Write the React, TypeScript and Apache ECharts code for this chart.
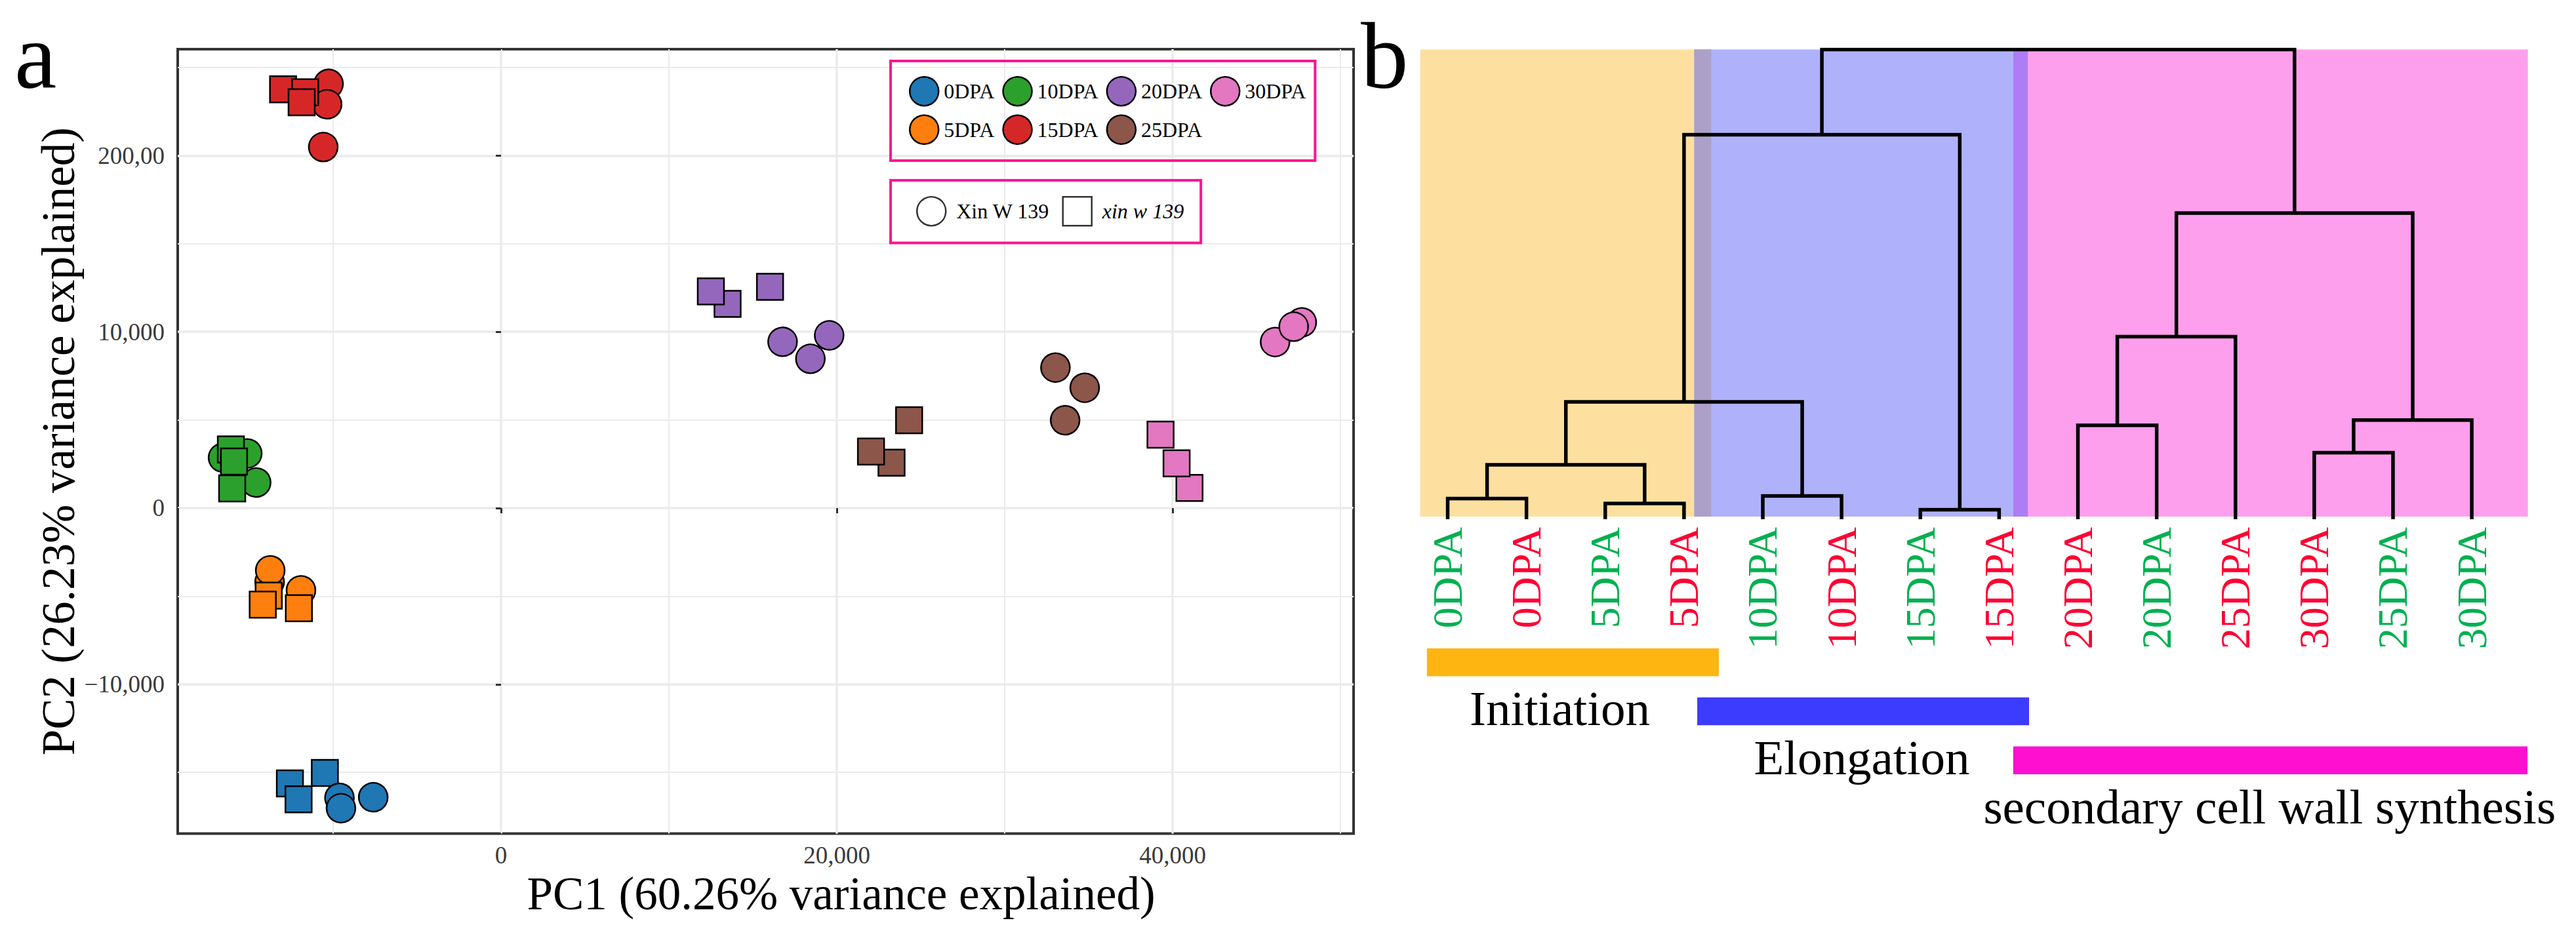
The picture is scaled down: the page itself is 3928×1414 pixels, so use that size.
import React, { useEffect, useRef } from 'react';
import * as echarts from 'echarts';

const FONT = '"Liberation Serif", "Times New Roman", serif';

// ---------- Panel a : PCA ----------
const stages = ['0DPA', '5DPA', '10DPA', '15DPA', '20DPA', '25DPA', '30DPA'];
const stageColors = ['#1f77b4', '#ff7f0e', '#2ca02c', '#d62728', '#9467bd', '#8c564b', '#e377c2'];
const legendOrder = ['0DPA', '10DPA', '20DPA', '30DPA', '5DPA', '15DPA', '25DPA'];
const genotypes = ['Xin W 139', 'xin w 139'];

// Xin W 139 (circles), one row per stage
const xinW_PC1 = [
  [-9625, -9535, -7613],
  [-13785, -13750, -11918],
  [-16560, -15117, -14586],
  [-10273, -10361, -10590],
  [16770, 18426, 19543],
  [33023, 34766, 33598],
  [46106, 47695, 47213],
];
const xinW_PC2 = [
  [-16440, -17031, -16406],
  [-4189, -3530, -4665],
  [2860, 3099, 1451],
  [24074, 22913, 20487],
  [9435, 8471, 9799],
  [7972, 6827, 4985],
  [9423, 10540, 10294],
];
// xin w 139 (squares), one row per stage
const xinw_PC1 = [
  [-12578, -10496, -12062],
  [-13840, -14195, -12043],
  [-16094, -15906, -16016],
  [-12984, -11668, -11879],
  [13492, 12496, 16020],
  [23258, 22035, 24305],
  [41004, 40238, 39281],
];
const xinw_PC2 = [
  [-15625, -15030, -16522],
  [-4970, -5476, -5681],
  [3326, 2641, 1116],
  [23761, 23594, 23028],
  [11592, 12292, 12556],
  [2574, 3207, 4985],
  [1146, 2537, 4167],
];
const squaresFirst = ['0DPA'];

const xRange = [-19260, 50780];
const yRange = [-18470, 26040];
const xTickValues = [0, 20000, 40000];
const xTickLabels = ['0', '20,000', '40,000'];
const yTickValues = [-10000, 0, 10000, 20000];
const yTickLabels = ['\u221210,000', '0', '10,000', '200,00'];

// ---------- Panel b : dendrogram ----------
const leafLabels = ['0DPA', '0DPA', '5DPA', '5DPA', '10DPA', '10DPA', '15DPA', '15DPA', '20DPA', '20DPA', '25DPA', '30DPA', '25DPA', '30DPA'];
const leafLine = ['Xin W 139', 'xin w 139', 'Xin W 139', 'xin w 139', 'Xin W 139', 'xin w 139', 'Xin W 139', 'xin w 139', 'xin w 139', 'Xin W 139', 'xin w 139', 'xin w 139', 'Xin W 139', 'Xin W 139'];
const lineLabelColors: Record<string, string> = { 'Xin W 139': '#00b050', 'xin w 139': '#ff0033' };
const mergeA = [0, 2, 14, 4, 16, 6, 18, 8, 21, 11, 23, 22, 20];
const mergeB = [1, 3, 15, 5, 17, 7, 19, 9, 10, 12, 13, 24, 25];
const mergeHeight = [4.38, 3.35, 11.58, 4.94, 24.98, 2.02, 81.86, 19.99, 38.88, 14.15, 21.12, 65.18, 100];

const phases = ['Initiation', 'Elongation', 'secondary cell wall synthesis'];
const bgFrom = [-0.349, 3.13, 7.18];
const bgTo = [3.345, 7.365, 13.712];
const barFrom = [-0.264, 3.168, 7.178];
const barTo = [3.442, 7.38, 13.707];
const labelAt = [1.424, 5.257, 10.433];
const bgColors = ['#fde09f', '#afb2fb', '#fe9fee'];
const overlapColors = ['#aca0c9', '#ae7cf5'];
const barColors = ['#ffb511', '#3c3cff', '#ff10d0'];

function buildDendroLines() {
  const n = leafLabels.length;
  const xs: number[] = leafLabels.map((_, i) => i);
  const hs: number[] = leafLabels.map(() => 0);
  const lines: any[] = [];
  for (let k = 0; k < mergeA.length; k++) {
    const a = mergeA[k];
    const b = mergeB[k];
    const h = mergeHeight[k];
    lines.push({
      coords: [
        [xs[a], hs[a]],
        [xs[a], h],
        [xs[b], h],
        [xs[b], hs[b]],
      ],
    });
    xs[n + k] = (xs[a] + xs[b]) / 2;
    hs[n + k] = h;
  }
  return lines;
}

function buildOption() {
  const fmt = (vals: number[], labels: string[]) => (v: number) => {
    const i = vals.indexOf(v);
    return i >= 0 ? labels[i] : '';
  };

  const scatterSeries = stages.map((st, si) => {
    const circles = xinW_PC1[si].map((x, j) => ({ value: [x, xinW_PC2[si][j]], symbol: 'circle', symbolSize: 44 }));
    const squares = xinw_PC1[si].map((x, j) => ({ value: [x, xinw_PC2[si][j]], symbol: 'rect', symbolSize: 40 }));
    const data = squaresFirst.includes(st) ? [...squares, ...circles] : [...circles, ...squares];
    return {
      type: 'scatter',
      name: st,
      xAxisIndex: 0,
      yAxisIndex: 0,
      data,
      itemStyle: { color: stageColors[si], borderColor: '#000', borderWidth: 2.5, opacity: 1 },
      emphasis: { disabled: true },
      z: 5,
    };
  });

  const dummySeries = genotypes.map((g, gi) => ({
    type: 'scatter',
    name: g,
    xAxisIndex: 0,
    yAxisIndex: 0,
    data: [],
    symbol: gi === 0 ? 'circle' : 'rect',
    itemStyle: { color: '#fff', borderColor: '#000', borderWidth: 2.5 },
  }));

  const gridLineMajor = { show: true, showMinLine: false, showMaxLine: false, lineStyle: { color: '#ebebeb', width: 3.5 } };
  const gridLineMinor = { show: true, showMinLine: false, showMaxLine: false, lineStyle: { color: '#ebebeb', width: 2 } };
  const tickLabel = { fontSize: 37, fontFamily: FONT, color: '#3a3a3a' };

  return {
    animation: false,
    backgroundColor: '#ffffff',
    textStyle: { fontFamily: FONT },
    title: [
      { text: 'a', left: 22, top: 12, padding: 0, textStyle: { fontSize: 145, fontFamily: FONT, fontWeight: 'normal', color: '#000' } },
      { text: 'b', left: 2075, top: 12, padding: 0, textStyle: { fontSize: 145, fontFamily: FONT, fontWeight: 'normal', color: '#000' } },
    ],
    grid: [
      { left: 271, top: 75, width: 1793, height: 1196.5, show: true, borderColor: '#333', borderWidth: 4, backgroundColor: 'transparent' },
      { left: 2207.5, top: 75.5, width: 1561.6, height: 716.5, show: false },
    ],
    xAxis: [
      {
        gridIndex: 0, type: 'value', position: 'bottom', min: xRange[0], max: xRange[1], splitNumber: 4,
        axisLine: { show: false },
        axisTick: { show: true, length: 8, lineStyle: { color: '#333', width: 3 } },
        axisLabel: { ...tickLabel, margin: 14, formatter: fmt(xTickValues, xTickLabels) },
        splitLine: gridLineMajor,
        name: 'PC1 (60.26% variance explained)', nameLocation: 'middle', nameGap: 47,
        nameTextStyle: { fontSize: 71, fontFamily: FONT, color: '#000', padding: [0, 0, 0, 230] },
        z: 1,
      },
      {
        gridIndex: 0, type: 'value', position: 'bottom', min: xRange[0], max: xRange[1], splitNumber: 7,
        axisLine: { show: false }, axisTick: { show: false }, axisLabel: { show: false },
        splitLine: gridLineMinor, z: 0,
      },
      { gridIndex: 1, type: 'value', position: 'bottom', min: 0, max: 13, show: false },
      {
        gridIndex: 1, type: 'category', position: 'bottom', data: leafLabels, boundaryGap: false,
        axisLine: { show: false }, axisTick: { show: false }, splitLine: { show: false },
        axisLabel: {
          interval: 0, rotate: 90, margin: 12, fontSize: 64, fontFamily: FONT,
          color: (_v: any, idx: number) => lineLabelColors[leafLine[idx]],
        },
      },
    ],
    yAxis: [
      {
        gridIndex: 0, type: 'value', position: 'left', min: yRange[0], max: yRange[1], splitNumber: 5,
        axisLine: { show: false },
        axisTick: { show: true, length: 8, lineStyle: { color: '#333', width: 3 } },
        axisLabel: { ...tickLabel, margin: 20, formatter: fmt(yTickValues, yTickLabels) },
        splitLine: gridLineMajor,
        name: 'PC2 (26.23% variance explained)', nameLocation: 'middle', nameGap: 138,
        nameTextStyle: { fontSize: 71, fontFamily: FONT, color: '#000' },
        z: 1,
      },
      {
        gridIndex: 0, type: 'value', position: 'left', min: yRange[0], max: yRange[1], splitNumber: 9,
        axisLine: { show: false }, axisTick: { show: false }, axisLabel: { show: false },
        splitLine: gridLineMinor, z: 0,
      },
      { gridIndex: 1, type: 'value', position: 'left', min: 0, max: 100, show: false },
    ],
    legend: [
      {
        selectedMode: false,
        orient: 'horizontal', left: 1358, top: 93, width: 700,
        padding: [23, 14, 24, 28], itemWidth: 44, itemHeight: 44, itemGap: 12,
        icon: 'circle', borderColor: '#ff1493', borderWidth: 4,
        itemStyle: { borderColor: '#000', borderWidth: 2.5 },
        textStyle: { fontSize: 32, fontFamily: FONT, color: '#000', padding: [0, 0, 0, 3] },
        data: legendOrder,
      },
      {
        selectedMode: false,
        orient: 'horizontal', left: 1358, top: 275,
        padding: [24, 26, 25, 39], itemWidth: 44, itemHeight: 44, itemGap: 19,
        borderColor: '#ff1493', borderWidth: 4,
        textStyle: {
          fontSize: 32, fontFamily: FONT, color: '#000', padding: [0, 0, 0, 11],
          rich: { it: { fontSize: 32, fontFamily: FONT, fontStyle: 'italic', color: '#000' } },
        },
        formatter: (name: string) => (name === genotypes[1] ? `{it|${name}}` : name),
        data: genotypes.map((g, gi) => ({
          name: g,
          icon: gi === 0 ? 'circle' : 'rect',
          itemStyle: { color: '#fff', borderColor: '#000', borderWidth: 2.5 },
        })),
      },
    ],
    series: [
      ...scatterSeries,
      ...dummySeries,
      {
        type: 'custom',
        xAxisIndex: 2,
        yAxisIndex: 2,
        data: phases.map((_, i) => [i]),
        clip: false,
        z: 1,
        silent: true,
        renderItem: (params: any, api: any) => {
          const i = params.dataIndex;
          const children: any[] = [];
          const tl = api.coord([bgFrom[i], 100]);
          const br = api.coord([bgTo[i], 0.55]);
          children.push({ type: 'rect', shape: { x: tl[0], y: tl[1], width: br[0] - tl[0], height: br[1] - tl[1] }, style: { fill: bgColors[i] } });
          if (i > 0) {
            const o0 = api.coord([bgFrom[i], 100]);
            const o1 = api.coord([bgTo[i - 1], 0.55]);
            children.push({ type: 'rect', shape: { x: o0[0], y: o0[1], width: o1[0] - o0[0], height: o1[1] - o0[1] }, style: { fill: overlapColors[i - 1] } });
          }
          const base = api.coord([0, 0])[1];
          const b0 = api.coord([barFrom[i], 0])[0];
          const b1 = api.coord([barTo[i], 0])[0];
          const y = base + 197 + i * 74.75;
          const hBar = 42.5;
          children.push({ type: 'rect', shape: { x: b0, y, width: b1 - b0, height: hBar }, style: { fill: barColors[i] } });
          const lx = api.coord([labelAt[i], 0])[0];
          children.push({
            type: 'text',
            style: {
              text: phases[i], x: lx, y: y + hBar + 49, fill: '#000',
              font: '75px "Liberation Serif", "Times New Roman", serif',
              fontSize: 75, fontFamily: FONT,
              align: 'center', verticalAlign: 'middle',
            },
          });
          return { type: 'group', children };
        },
      },
      {
        type: 'lines',
        coordinateSystem: 'cartesian2d',
        xAxisIndex: 2,
        yAxisIndex: 2,
        polyline: true,
        silent: true,
        z: 3,
        lineStyle: { color: '#000', width: 5.5, opacity: 1 },
        data: buildDendroLines(),
      },
    ],
  };
}

export default function App() {
  const ref = useRef<HTMLDivElement>(null);
  useEffect(() => {
    if (!ref.current) return;
    const chart = echarts.init(ref.current, undefined, { renderer: 'svg' });
    chart.setOption(buildOption() as any);
    return () => chart.dispose();
  }, []);
  return (
    <div
      ref={ref}
      style={{ position: 'absolute', left: 0, top: 0, width: '3928px', height: '1414px', background: '#fff' }}
    />
  );
}
